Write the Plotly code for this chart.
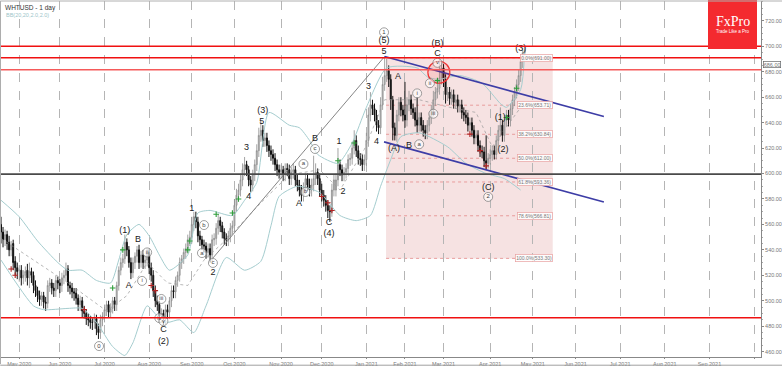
import plotly.graph_objects as go

title_text = "WHTUSD - 1 day"
bb_text = "BB(20,20,2.0,2.0)"

close_p = [
554,548,552,545,540,544,530,526,523,524,
518,520,523,518,523,
520,512,508,504,501,504,499,498,
512,514,510,508,516,514,512,
518,520,525,512,510,507,506,
502,497,500,492,490,486,485,483,
483,486,478,475,485,488,493,
497,491,494,500,497,512,
524,530,533,546,540,530,522,530,
535,540,530,536,530,532,538,526,
520,508,500,497,488,490,486,493,
491,500,508,507,516,520,530,533,538,541,548,550,
560,566,562,551,548,544,543,538,541,536,548,
549,557,563,559,554,549,548,551,557,559,
575,583,587,595,603,607,603,
595,591,599,607,
618,630,634,626,628,622,
618,615,612,607,603,601,
603,599,604,603,596,601,603,595,
591,587,583,589,596,591,587,
591,596,601,596,587,583,
579,575,571,570,587,595,
595,607,603,599,601,604,611,612,
620,626,618,612,611,607,611,
626,646,654,651,646,638,636,
654,670,677,
681,674,658,
636,630,646,656,650,646,642,
654,658,651,648,642,638,
644,638,634,632,638,644,650,658,
664,667,675,683,674,662,
664,659,662,656,658,653,654,648,646,
644,638,640,634,628,630,622,618,
617,610,608,612,
615,618,615,626,634,638,630,
642,646,642,651,658,664,
670,677,688,695,697]

open_p = [
560,554,548,552,546,540,545,531,526,524,
524,518,520,524,518,
523,520,512,508,504,501,504,499,
498,512,514,510,508,516,514,
512,518,520,525,512,510,507,
506,502,497,500,492,490,486,485,
483,483,486,478,475,485,488,
493,497,491,494,500,497,
512,524,530,533,546,540,530,522,
530,535,540,530,536,530,532,538,
526,520,508,500,497,488,490,486,
493,491,500,508,507,516,520,530,533,538,541,548,
550,560,566,562,551,548,544,543,538,541,536,
548,549,557,563,559,554,549,548,551,557,
559,575,583,587,595,603,607,
603,595,591,599,
607,618,630,634,626,628,
622,618,615,612,607,603,
601,603,599,604,603,596,601,603,
595,591,587,583,589,596,591,
587,591,596,601,596,587,
583,579,575,571,570,587,
587,595,607,603,599,601,604,611,
612,620,626,618,612,611,607,
611,626,646,654,651,646,638,
636,654,670,
677,681,674,
658,636,630,646,656,650,646,
642,654,658,651,648,642,
638,644,638,634,632,638,644,650,
658,664,667,675,683,674,
662,664,659,662,656,658,653,654,648,
646,644,638,640,634,628,630,622,
618,617,610,608,
612,615,618,615,626,634,638,
630,642,646,642,651,658,
664,670,677,688,695]

high_p = [
566,558,556,555,551,547,548,535,530,528,
528,524,527,529,530,
526,523,516,511,508,507,507,503,
516,518,517,514,520,519,517,
522,524,530,528,515,514,510,
510,505,504,503,496,493,490,488,
487,490,489,482,489,491,497,
500,500,498,503,503,515,
527,534,537,552,549,543,534,534,
538,543,544,539,540,536,541,541,
530,524,512,504,500,494,493,497,
497,503,512,512,519,523,534,536,541,545,552,555,
566,570,570,566,555,551,548,546,545,545,552,
553,561,568,566,562,557,553,555,561,563,
580,588,592,600,608,613,610,
606,598,603,611,
623,636,642,638,632,632,
626,622,619,616,611,607,
607,606,608,608,607,605,608,606,
599,595,591,593,600,600,596,
596,614,608,604,600,592,
587,583,579,575,592,599,
600,620,611,607,605,608,615,616,
625,634,630,622,616,615,615,
632,652,664,658,655,650,642,
660,676,692,
690,685,678,
661,640,650,660,660,654,672,
660,665,662,655,652,660,
648,648,642,638,642,648,654,665,
668,672,692,688,686,678,
668,668,666,666,662,662,658,658,652,
650,648,644,644,638,634,634,626,
622,621,630,616,
619,622,622,630,638,652,642,
646,650,650,655,662,668,
674,682,692,699,700]

low_p = [
545,542,543,540,535,535,524,520,517,515,
512,513,515,512,510,
514,506,503,499,496,496,494,492,
494,507,505,503,503,509,506,
507,513,515,507,505,502,500,
497,492,492,487,486,481,480,478,
477,478,473,470,470,480,483,
488,487,487,490,492,492,
508,520,526,529,535,526,517,518,
525,530,525,526,525,525,527,521,
515,503,495,492,483,483,481,481,
486,486,495,502,502,511,515,525,529,533,537,543,
545,555,557,546,543,540,538,533,534,530,530,
543,544,552,554,549,544,543,543,546,552,
554,570,578,582,590,598,598,
590,585,586,594,
602,613,625,621,621,617,
613,610,607,602,598,596,
596,594,594,598,591,591,596,590,
586,582,578,578,584,586,582,
582,586,591,591,582,578,
574,570,565,562,566,582,
582,590,598,594,594,596,599,606,
607,615,613,607,606,602,602,
606,621,641,646,641,633,631,
631,650,665,
672,668,650,
626,626,625,641,645,641,636,
637,649,646,643,637,632,
633,633,629,627,627,633,639,645,
653,659,662,670,668,655,
657,654,654,651,651,648,648,643,641,
639,633,633,629,623,623,617,613,
612,605,603,604,
607,610,611,611,621,629,625,
625,637,637,637,646,653,
659,665,672,683,690]

bar_index = list(range(len(close_p)))

upper_i = [0,9,18,28,33,40,47,54,58,62,68,73,78,83,92,97,103,114,120,126,132,142,147,152,156,166,173,180,190,205,210,215,226,237,246,249,256,258]
upper_p = [579,566,547,530,524,524,516,514,532,552,560,551,536,524,536,569,571,567,579,593,648,638,636,626,615,608,624,652,683,683,676,674,677,671,655,652,666,697]
lower_i = [0,16,21,33,40,47,55,61,65,72,77,82,88,95,101,111,120,128,133,137,146,157,167,175,182,187,192,197,206,220,229,239,248,256]
lower_p = [532,496,493,494,494,483,464,457,467,496,488,483,485,475,496,534,524,531,559,582,590,585,567,563,567,590,611,629,632,621,608,600,596,587]
mid_i = [0,16,33,52,62,72,82,92,100,111,128,142,157,167,179,189,206,221,234,242,248,256]
mid_p = [549,532,514,492,504,530,514,512,532,548,577,599,603,587,619,658,658,652,648,621,634,652]

green_i = [55,60,92,93,106,114,117,166,174,215,249,254]
green_p = [510,540,540,547,568,569,580,610,624,673,644,667]
red_i = [5,7,41,74,76,158,161,163,231,236,239]
red_p = [525,520,493,512,508,582,577,571,631,618,606]

wave_text = ["(1)","B","A","C","(2)","1","2","4","3","(3)","5","B","1","3","4","(5)","5","A","(A)","B","(B)","C","(1)","(2)","(3)","A","2","C","(4)","(C)"]
wave_i = [61,67.5,63,80,80,94,104.5,122,121,129,128.5,154.7,166.5,181,185,188.7,188.7,195.6,193.6,201,215,215,246,247.3,256,146.8,168.5,161.6,161.6,240]
wave_p = [555,548,512,477,467.5,572,522,582,620,649,641,627,625,668,625,704,696,676,619.4,622,702,694,644,618.5,698,576,585.5,561,553,588.6]

circ_text = ["0","i","ii","iii","iv","v","a","b","c","a","c","b","i","ii","iii","a","v","1","2"]
circ_i = [48.3,69.5,72,79,78,80,99,100,104.4,149,154.7,150,205,211.3,213,206,215,188.7,240]
circ_p = [464.4,515.6,538,501.4,486.4,484,537.5,559.5,529.7,607.5,619.3,585.5,663,671,647,623,687,711,581.6]

month_labels = ["May 2020","Jun 2020","Jul 2020","Aug 2020","Sep 2020","Oct 2020","Nov 2020","Dec 2020","Jan 2021","Feb 2021","Mar 2021","Apr 2021","May 2021","Jun 2021","Jul 2021","Aug 2021","Sep 2021",""]
month_bars = [9,29,51,73,94,115,138,158,180,199,218,241,262,283,305,327,349,371]
price_ticks = [460,480,500,520,540,560,580,600,620,640,660,680,700,720]
red_levels = [700,691,486.6]
light_red_level = 681.6
black_level = 599.5

fib_labels = ["0.0%(691.00)","23.6%(653.71)","38.2%(630.84)","50.0%(612.00)","61.8%(593.36)","78.6%(566.81)","100.0%(533.30)"]
fib_levels = [691,653.71,630.84,612,593.36,566.81,533.3]
fib_start, fib_end = 189.7, 271.8

channel_upper_i, channel_upper_p = [189,297], [692,644.8]
channel_lower_i, channel_lower_p = [188.7,297], [624.9,577.6]
trend_i, trend_p = [104.4,189], [533.6,692]
circle_i, circle_p = [215.7], [679.6]
last_price = 686

X_RANGE = [0, 374.4]
Y_RANGE = [455.8, 735.6]
LBL = "#777777"

fig = go.Figure()
shapes = [dict(type="rect", xref="x", yref="y", x0=fib_start, x1=fib_end, y0=fib_levels[-1], y1=fib_levels[0],
               fillcolor="#f6e2e2", line=dict(width=0), layer="below")]
for lv in fib_levels:
    shapes.append(dict(type="line", xref="x", yref="y", x0=fib_start, x1=fib_end, y0=lv, y1=lv,
                       line=dict(color="#e58a8a", width=0.8, dash="dot"), layer="below"))

fig.add_trace(go.Scatter(x=upper_i, y=upper_p, mode="lines", line=dict(color="#a5cdcf", width=1, shape="spline", smoothing=0.6), hoverinfo="skip"))
fig.add_trace(go.Scatter(x=lower_i, y=lower_p, mode="lines", line=dict(color="#a5cdcf", width=1, shape="spline", smoothing=0.6), hoverinfo="skip"))
fig.add_trace(go.Scatter(x=mid_i, y=mid_p, mode="lines", line=dict(color="#9a9a9a", width=0.7, dash="dot"), hoverinfo="skip"))
fig.add_trace(go.Scatter(x=trend_i, y=trend_p, mode="lines", line=dict(color="#777777", width=0.9), hoverinfo="skip"))

fig.add_trace(go.Candlestick(
    x=bar_index, open=open_p, high=high_p, low=low_p, close=close_p, whiskerwidth=0,
    increasing=dict(line=dict(color="#8d8d8d", width=0.8), fillcolor="#c4c4c4"),
    decreasing=dict(line=dict(color="#111111", width=1), fillcolor="#111111"),
))

for lv in red_levels:
    shapes.append(dict(type="line", xref="x", yref="y", x0=X_RANGE[0], x1=X_RANGE[1], y0=lv, y1=lv, line=dict(color="#f01010", width=1.4)))
shapes.append(dict(type="line", xref="x", yref="y", x0=X_RANGE[0], x1=X_RANGE[1], y0=light_red_level, y1=light_red_level, line=dict(color="#f55a5a", width=1.6)))
shapes.append(dict(type="line", xref="x", yref="y", x0=X_RANGE[0], x1=X_RANGE[1], y0=black_level, y1=black_level, line=dict(color="#4a4a4a", width=1.8)))

fig.add_trace(go.Scatter(x=channel_upper_i, y=channel_upper_p, mode="lines", line=dict(color="#3d3da6", width=1.7), hoverinfo="skip"))
fig.add_trace(go.Scatter(x=channel_lower_i, y=channel_lower_p, mode="lines", line=dict(color="#3d3da6", width=1.7), hoverinfo="skip"))
fig.add_trace(go.Scatter(x=circle_i, y=circle_p, mode="markers", marker=dict(size=22, color="rgba(255,0,0,0.1)", line=dict(color="#ee3333", width=1.2)), hoverinfo="skip"))
fig.add_trace(go.Scatter(x=green_i, y=green_p, mode="markers", marker=dict(symbol="cross-thin", size=4, line=dict(color="#2e9e3a", width=1.1)), hoverinfo="skip"))
fig.add_trace(go.Scatter(x=red_i, y=red_p, mode="markers", marker=dict(symbol="cross-thin", size=4, line=dict(color="#b02222", width=1.1)), hoverinfo="skip"))
fig.add_trace(go.Scatter(x=wave_i, y=wave_p, mode="text", text=wave_text, textposition="middle center",
                         textfont=dict(family="Liberation Sans", size=9, color="#222222"), hoverinfo="skip"))
fig.add_trace(go.Scatter(x=circ_i, y=circ_p, mode="markers+text", text=circ_text, textposition="middle center",
                         textfont=dict(family="Liberation Sans", size=6, color="#444444"),
                         marker=dict(size=9, color="rgba(255,255,255,0.6)", line=dict(color="#777777", width=0.7)), hoverinfo="skip"))

shapes += [
    dict(type="rect", xref="paper", yref="paper", x0=(708-1)/760, x1=(757-1)/760, y0=(357-49)/356, y1=(357-0)/356,
         fillcolor="#f42a2f", line=dict(width=0), layer="above"),
    dict(type="line", xref="paper", yref="paper", x0=-0.001, x1=-0.001, y0=-0.02, y1=1.0, line=dict(color="#909090", width=1)),
    dict(type="line", xref="paper", yref="paper", x0=-0.001, x1=1.028, y0=1.0, y1=1.0, line=dict(color="#b0b0b0", width=1)),
    dict(type="line", xref="paper", yref="paper", x0=-0.001, x1=1.028, y0=-0.023, y1=-0.023, line=dict(color="#a0a0a0", width=1)),
]

annotations = [
    dict(xref="paper", yref="paper", x=0.003, y=0.998, xanchor="left", yanchor="top", text=title_text, showarrow=False,
         font=dict(family="Liberation Sans", size=6.5, color="#333333")),
    dict(xref="paper", yref="paper", x=0.004, y=0.976, xanchor="left", yanchor="top", text=bb_text, showarrow=False,
         font=dict(family="Liberation Sans", size=5.5, color="#9cc5c9")),
    dict(xref="paper", yref="paper", x=(732.5-1)/760, y=(357-21)/356, xanchor="center", yanchor="middle", text="FxPro", showarrow=False,
         font=dict(family="Liberation Serif", size=14, color="white")),
    dict(xref="paper", yref="paper", x=(732.5-1)/760, y=(357-31.5)/356, xanchor="center", yanchor="middle", text="Trade Like a Pro", showarrow=False,
         font=dict(family="Liberation Sans", size=4.5, color="white")),
    dict(xref="paper", yref="y", x=1.026, y=last_price, text=f"{last_price:.2f}", showarrow=False, xanchor="right",
         bordercolor="#666666", borderwidth=0.7, borderpad=0, bgcolor="white",
         font=dict(family="Liberation Sans", size=5.5, color=LBL)),
]
for txt, lv in zip(fib_labels, fib_levels):
    annotations.append(dict(xref="x", yref="y", x=fib_end, y=lv, xanchor="right", text=txt, showarrow=False,
                            bordercolor="#e8a0a0", borderwidth=0.7, borderpad=0.5, bgcolor="rgba(255,255,255,0.9)",
                            font=dict(family="Liberation Sans", size=5, color=LBL)))

fig.update_layout(
    width=782, height=366, margin=dict(l=1, r=21, t=1, b=9, autoexpand=False), paper_bgcolor="white", plot_bgcolor="white",
    showlegend=False, shapes=shapes, annotations=annotations,
    xaxis=dict(range=X_RANGE, automargin=False, rangeslider=dict(visible=False), tickmode="array", tickvals=month_bars, ticktext=month_labels,
               showgrid=True, gridcolor="#b5b5b5", griddash="dash", gridwidth=0.8, zeroline=False, showline=True,
               linecolor="#888888", ticks="outside", ticklen=1, tickcolor="#888888",
               tickfont=dict(family="Liberation Sans", size=5.5, color=LBL)),
    yaxis=dict(range=Y_RANGE, automargin=False, side="right", tickmode="array", tickvals=price_ticks, ticktext=[f"{v:.2f}" for v in price_ticks],
               showgrid=False, zeroline=False, showline=True, linecolor="#888888", ticks="outside", ticklen=2, tickcolor="#888888",
               minor=dict(ticks="outside", ticklen=1, tickcolor="#aaaaaa", dtick=5),
               tickfont=dict(family="Liberation Sans", size=5.5, color=LBL)),
)
fig.write_html("out.html", config={"displayModeBar": False},
               post_script="document.body.style.margin='0';document.documentElement.style.overflow='hidden';")
